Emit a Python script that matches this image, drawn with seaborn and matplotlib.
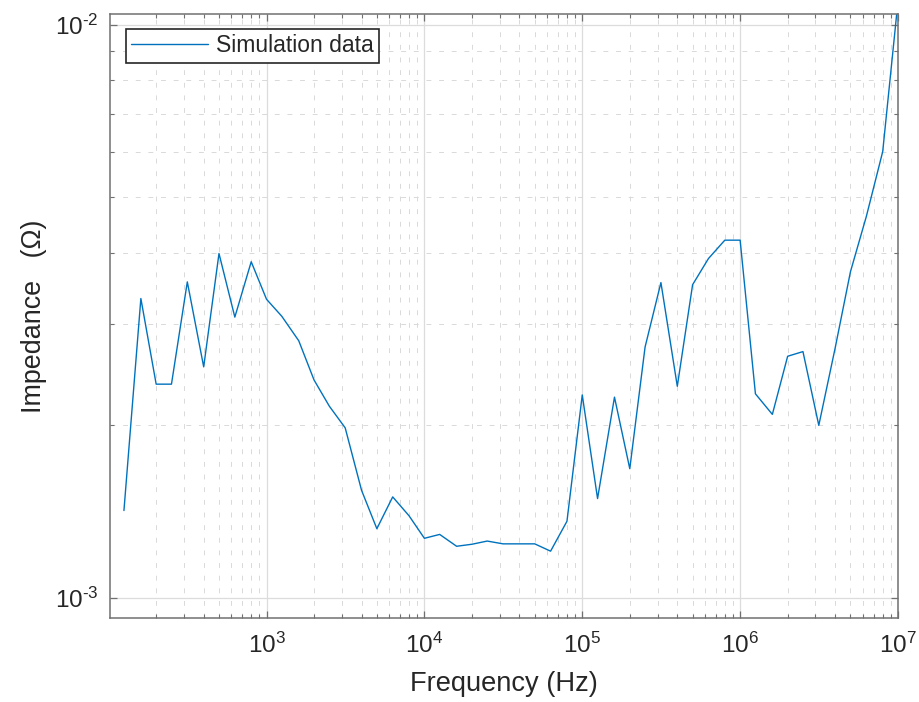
import numpy as np
import pandas as pd
import matplotlib
matplotlib.use("Agg")
import matplotlib.pyplot as plt
import matplotlib.ticker as mticker
import seaborn as sns

# One-third-octave band centre frequencies (Hz)
frequency_hz = [
    125, 160, 200, 250, 315, 400, 500, 630, 800, 1000,
    1250, 1600, 2000, 2500, 3150, 4000, 5000, 6300, 8000, 10000,
    12500, 16000, 20000, 25000, 31500, 40000, 50000, 63000, 80000, 100000,
    125000, 160000, 200000, 250000, 315000, 400000, 500000, 630000, 800000, 1000000,
    1250000, 1600000, 2000000, 2500000, 3150000, 4000000, 5000000, 6300000, 8000000, 10000000,
]

# Simulated impedance magnitude (ohm)
impedance_ohm = [
    1.42e-3, 3.33e-3, 2.36e-3, 2.36e-3, 3.56e-3, 2.53e-3, 3.99e-3, 3.09e-3, 3.86e-3, 3.32e-3,
    3.10e-3, 2.81e-3, 2.40e-3, 2.16e-3, 1.98e-3, 1.54e-3, 1.32e-3, 1.50e-3, 1.39e-3, 1.27e-3,
    1.29e-3, 1.23e-3, 1.24e-3, 1.256e-3, 1.242e-3, 1.242e-3, 1.242e-3, 1.206e-3, 1.36e-3, 2.26e-3,
    1.49e-3, 2.24e-3, 1.68e-3, 2.74e-3, 3.55e-3, 2.34e-3, 3.52e-3, 3.91e-3, 4.21e-3, 4.21e-3,
    2.27e-3, 2.09e-3, 2.64e-3, 2.69e-3, 2.00e-3, 2.73e-3, 3.71e-3, 4.63e-3, 6.01e-3, 1.10e-2,
]

series_label = "Simulation data"
x_label = "Frequency (Hz)"
y_label = "Impedance   (\u03a9)"

df = pd.DataFrame({"Frequency": frequency_hz, "Impedance": impedance_ohm})

sns.set_theme(style="white")
plt.rcParams["font.family"] = ["Liberation Sans", "DejaVu Sans"]
plt.rcParams["mathtext.fontset"] = "custom"
plt.rcParams["mathtext.rm"] = "Liberation Sans"
plt.rcParams["mathtext.it"] = "Liberation Sans"

W, H = 919, 702
fig = plt.figure(figsize=(W / 100, H / 100), dpi=100)
fig.patch.set_facecolor("white")
ax = fig.add_axes([110 / W, 1 - 617.7 / H, 788 / W, 603.7 / H])

line_color = "#0072BD"
sns.lineplot(data=df, x="Frequency", y="Impedance", ax=ax, color=line_color,
             linewidth=1.0, estimator=None, sort=True, label=series_label)

ax.set_xscale("log")
ax.set_yscale("log")
ax.set_xlim(102, 1e7)
ax.set_ylim(9.23e-4, 1.045e-2)

axis_color = "#707070"
text_color = "#262626"

# grid: solid major, dashed minor
ax.grid(True, which="major", color="#dcdcdc", linewidth=0.9, linestyle="-")
ax.grid(True, which="minor", color="#d9d9d9", linewidth=0.7, linestyle=(0, (5, 8)))
ax.set_axisbelow(True)


def pow10_label(value, pos):
    exp = int(round(np.log10(value)))
    sign = r"\text{-}" if exp < 0 else ""
    return r"$\mathregular{10^{%s%d}}$" % (sign, abs(exp))


ax.xaxis.set_major_locator(mticker.LogLocator(base=10, numticks=20))
ax.xaxis.set_minor_locator(mticker.LogLocator(base=10, subs=np.arange(2, 10), numticks=40))
ax.yaxis.set_major_locator(mticker.LogLocator(base=10, numticks=20))
ax.yaxis.set_minor_locator(mticker.LogLocator(base=10, subs=np.arange(2, 10), numticks=40))
ax.xaxis.set_major_formatter(mticker.FuncFormatter(pow10_label))
ax.yaxis.set_major_formatter(mticker.FuncFormatter(pow10_label))
ax.xaxis.set_minor_formatter(mticker.NullFormatter())
ax.yaxis.set_minor_formatter(mticker.NullFormatter())

for s in ax.spines.values():
    s.set_color(axis_color)
    s.set_linewidth(1.1)
    s.set_visible(True)

ax.tick_params(which="both", direction="in", top=True, right=True,
               bottom=True, left=True, color=axis_color)
ax.tick_params(which="major", length=5, width=0.9, labelsize=17.5,
               labelcolor=text_color)
ax.tick_params(which="minor", length=3, width=0.8)
ax.tick_params(axis="x", which="major", pad=11)
ax.tick_params(axis="y", which="major", pad=8)

ax.set_xlabel(x_label, fontsize=19.6, color=text_color, labelpad=9)
ax.set_ylabel(y_label, fontsize=19.4, color=text_color, labelpad=6)

leg = ax.legend(loc="upper left", bbox_to_anchor=(0.0203, 0.9747),
                borderaxespad=0, fontsize=16.5, frameon=True, fancybox=False,
                framealpha=1, edgecolor="#262626", handlelength=3.35,
                handletextpad=0.35, borderpad=0.225)
leg.get_frame().set_linewidth(1.2)
for t in leg.get_texts():
    t.set_color(text_color)

fig.savefig("out.png", dpi=100, facecolor="white")
